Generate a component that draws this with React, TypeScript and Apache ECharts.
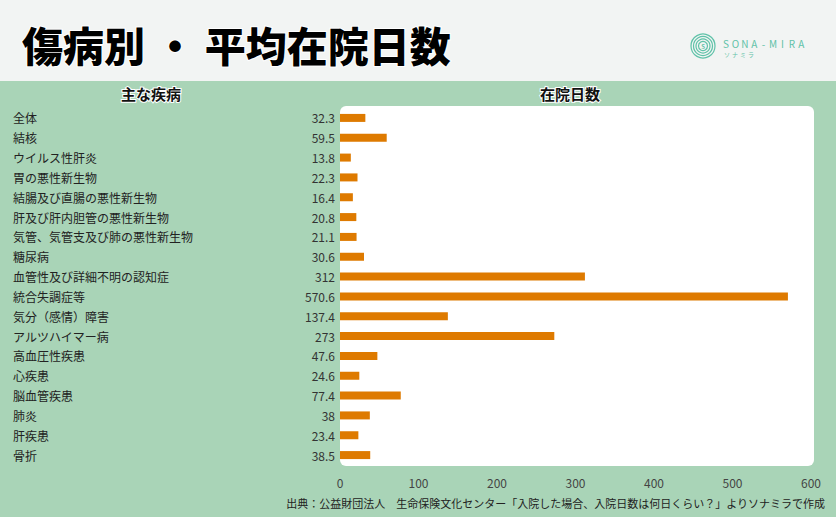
import React, { useEffect, useRef } from "react";
import * as echarts from "echarts";

const titleText = "傷病別 ・ 平均在院日数";
const leftHeader = "主な疾病";
const rightHeader = "在院日数";
const sourceText =
  "出典：公益財団法人　生命保険文化センター「入院した場合、入院日数は何日くらい？」よりソナミラで作成";

const categories = [
  "全体",
  "結核",
  "ウイルス性肝炎",
  "胃の悪性新生物",
  "結腸及び直腸の悪性新生物",
  "肝及び肝内胆管の悪性新生物",
  "気管、気管支及び肺の悪性新生物",
  "糖尿病",
  "血管性及び詳細不明の認知症",
  "統合失調症等",
  "気分（感情）障害",
  "アルツハイマー病",
  "高血圧性疾患",
  "心疾患",
  "脳血管疾患",
  "肺炎",
  "肝疾患",
  "骨折",
];
const values = [
  32.3, 59.5, 13.8, 22.3, 16.4, 20.8, 21.1, 30.6, 312, 570.6, 137.4, 273, 47.6,
  24.6, 77.4, 38, 23.4, 38.5,
];
const axisMin = 0;
const axisMax = 600;
const axisInterval = 100;

const logoLetters = "SONA-MIRA";
const logoKana = "ソナミラ";

const FONT = '"Noto Sans CJK JP", "Noto Sans", sans-serif';
const TEAL = "#5fc2a8";

export default function App() {
  const ref = useRef<HTMLDivElement>(null);

  useEffect(() => {
    document.body.style.margin = "0";
    if (!ref.current) return;
    const chart = echarts.init(ref.current, undefined, { renderer: "svg" });

    const logoGraphics: any[] = [];
    [4.5, 7, 9.5, 12].forEach((r) => {
      logoGraphics.push({
        type: "circle",
        shape: { cx: 703, cy: 46, r },
        style: { fill: "none", stroke: TEAL, lineWidth: 1.2 },
        silent: true,
      });
    });
    logoGraphics.push({
      type: "text",
      x: 703,
      y: 46,
      style: {
        text: "S",
        font: `bold 6px ${FONT}`,
        fill: TEAL,
        align: "center",
        verticalAlign: "middle",
      },
    });
    logoGraphics.push({
      type: "ellipse",
      shape: { cx: 715, cy: 33, rx: 2.5, ry: 1.3 },
      rotation: 0.5,
      style: { fill: TEAL },
    });
    logoLetters.split("").forEach((ch, i) => {
      logoGraphics.push({
        type: "text",
        x: 726 + i * 9.4,
        y: 43,
        style: {
          text: ch,
          font: `10px ${FONT}`,
          lineHeight: 10,
          fill: TEAL,
          align: "center",
          verticalAlign: "middle",
        },
      });
    });
    logoKana.split("").forEach((ch, i) => {
      logoGraphics.push({
        type: "text",
        x: 727 + i * 8,
        y: 54,
        style: {
          text: ch,
          font: `6px ${FONT}`,
          lineHeight: 6,
          fill: TEAL,
          align: "center",
          verticalAlign: "middle",
        },
      });
    });

    const option: any = {
      animation: false,
      backgroundColor: "#a9d4b7",
      textStyle: { fontFamily: FONT },
      graphic: [
        {
          type: "rect",
          shape: { x: 0, y: 0, width: 836, height: 81 },
          style: { fill: "#f2f4f3" },
          z: -10,
          silent: true,
        },
        {
          type: "rect",
          shape: { x: 340, y: 106, width: 474, height: 360, r: 6 },
          style: { fill: "#ffffff" },
          z: -10,
          silent: true,
        },
        {
          type: "text",
          x: 22,
          y: 44,
          style: {
            text: titleText,
            font: `900 41px ${FONT}`,
            fill: "#000000",
            stroke: "#ffffff",
            lineWidth: 2,
            align: "left",
            verticalAlign: "middle",
          },
        },
        {
          type: "text",
          x: 151,
          y: 93.5,
          style: {
            text: leftHeader,
            font: `bold 15px ${FONT}`,
            fill: "#111111",
            stroke: "#ffffff",
            lineWidth: 2,
            align: "center",
            verticalAlign: "middle",
          },
        },
        {
          type: "text",
          x: 570,
          y: 93.5,
          style: {
            text: rightHeader,
            font: `bold 15px ${FONT}`,
            fill: "#111111",
            stroke: "#ffffff",
            lineWidth: 2,
            align: "center",
            verticalAlign: "middle",
          },
        },
        {
          type: "text",
          x: 825,
          y: 503,
          style: {
            text: sourceText,
            font: `11px ${FONT}`,
            fill: "#222222",
            align: "right",
            verticalAlign: "middle",
          },
        },
        ...logoGraphics,
      ],
      grid: { left: 340, right: 25, top: 108, bottom: 52, containLabel: false },
      xAxis: {
        type: "value",
        min: axisMin,
        max: axisMax,
        interval: axisInterval,
        axisLine: { show: false },
        axisTick: { show: false },
        splitLine: { show: false },
        axisLabel: { color: "#444444", fontSize: 12, margin: 11, fontFamily: FONT },
      },
      yAxis: {
        type: "category",
        data: categories,
        inverse: true,
        axisLine: { show: false },
        axisTick: { show: false },
        axisLabel: {
          align: "left",
          margin: 327,
          color: "#222222",
          fontSize: 12,
          fontFamily: FONT,
        },
      },
      series: [
        {
          type: "bar",
          data: values,
          barWidth: 8,
          itemStyle: { color: "#de7a00" },
          label: {
            show: true,
            position: "left",
            distance: 5,
            color: "#333333",
            fontSize: 12,
            fontFamily: FONT,
          },
        },
      ],
    };
    chart.setOption(option);
    return () => chart.dispose();
  }, []);

  return <div ref={ref} style={{ width: 836, height: 517 }} />;
}
